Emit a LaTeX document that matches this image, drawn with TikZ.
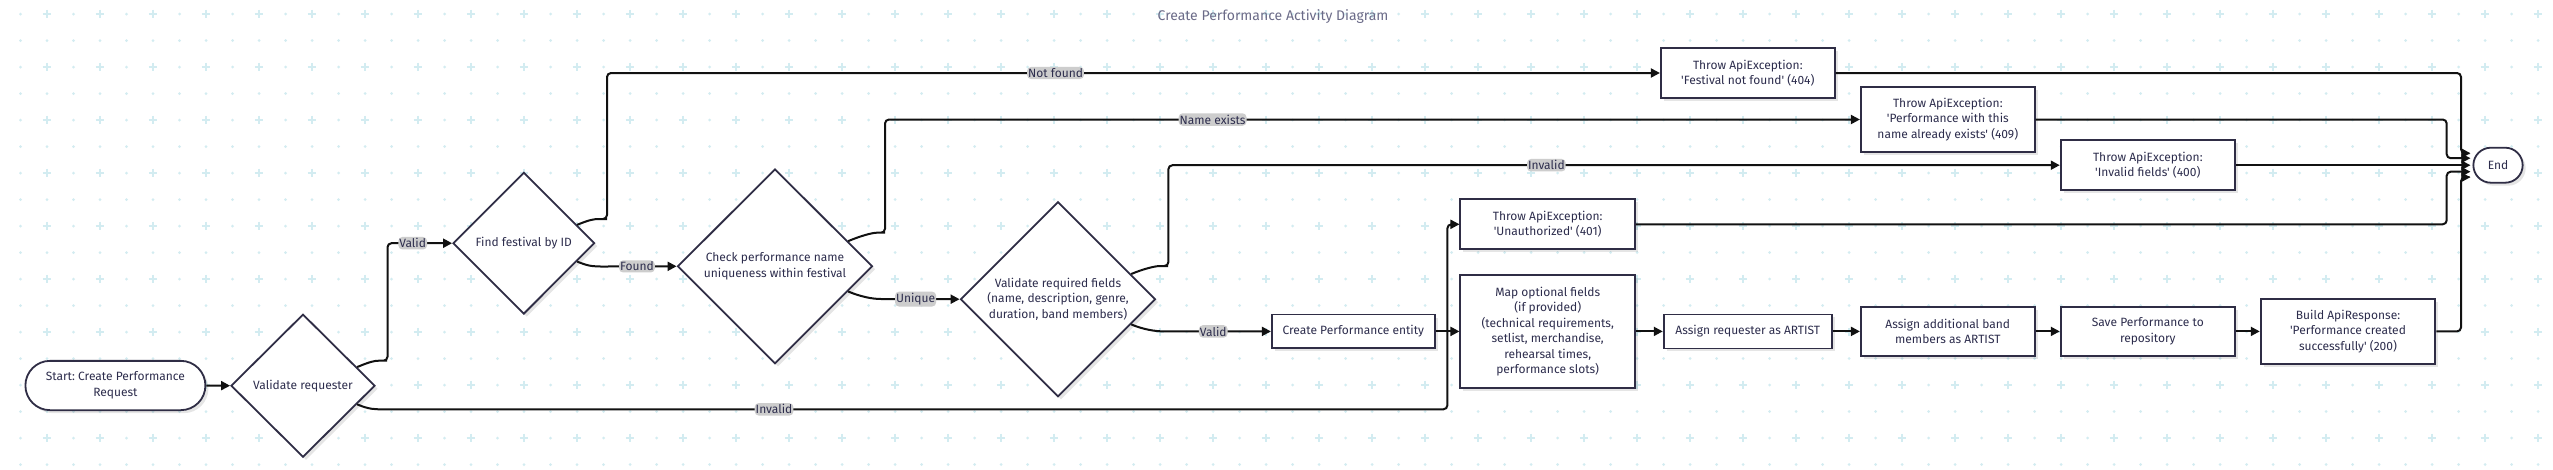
\documentclass[tikz,border=0pt]{standalone}
\usepackage{fontspec}
\setmonofont{Fira Sans}
\usetikzlibrary{shapes.geometric,arrows.meta,calc,shadows}
\definecolor{gridc}{HTML}{D3ECF1}
\definecolor{txt}{HTML}{2D2D4D}
\definecolor{bord}{HTML}{2F2D45}
\definecolor{lblbg}{HTML}{CDCDCD}
\definecolor{ttl}{HTML}{6B6B88}
\definecolor{edgec}{HTML}{111111}
\begin{document}
\begin{tikzpicture}[x=1pt,y=-1pt,
  base/.style={draw=bord, line width=1.8pt, fill=white, text=txt,
    font=\ttfamily\fontsize{12}{15.5}\selectfont, align=center, inner sep=0pt,
    drop shadow={shadow xshift=3pt, shadow yshift=-3pt, fill=black, opacity=0.10}},
  proc/.style={base, rectangle},
  dec/.style={base, diamond},
  term/.style={base, rectangle},
  conn/.style={draw=edgec, line width=2pt, -{Triangle[length=9pt,width=9pt]}, rounded corners=4pt},
  lbl/.style={fill=lblbg, text=txt, font=\ttfamily\fontsize{12}{14}\selectfont, inner xsep=1pt, inner ysep=1.5pt, draw=none}
]
\fill[white] (0,0) rectangle (2553,469);
\useasboundingbox (0,0) rectangle (2553,469);
% background grid
\foreach \i in {0,...,95}{
  \foreach \j in {0,...,17}{
    \pgfmathsetmacro\gx{20.5+26.5*\i}
    \pgfmathsetmacro\gy{14+26.5*\j}
    \pgfmathtruncatemacro\isplus{mod(\i,2)*(1-mod(\j,2))}
    \ifnum\isplus=1
      \draw[gridc,line width=1.8pt] (\gx-4.2,\gy) -- (\gx+4.2,\gy) (\gx,\gy-4.2) -- (\gx,\gy+4.2);
    \else
      \fill[gridc] (\gx,\gy) circle (1.5pt);
    \fi
  }
}
% title
\node[text=ttl, font=\ttfamily\fontsize{14}{16}\selectfont] (title) at (1273,16.7) {Create Performance Activity Diagram};
% nodes
\node[term, rounded corners=24.6pt, minimum width=180pt, minimum height=49.3pt] (start) at (115.4,385.5) {Start: Create Performance\\Request};
\node[dec, minimum width=144pt, minimum height=143pt] (val) at (303,385.7) {Validate requester};
\node[dec, minimum width=141.6pt, minimum height=141.7pt] (fnd) at (523.8,243.2) {Find festival by ID};
\node[dec, minimum width=195pt, minimum height=194.7pt] (chk) at (775,266.3) {Check performance name\\uniqueness within festival};
\node[dec, minimum width=195pt, minimum height=195pt] (vf) at (1058,299.2) {Validate required fields\\(name, description, genre,\\duration, band members)};
\node[proc, minimum width=163pt, minimum height=33.7pt] (cpe) at (1353.3,331.4) {Create Performance entity};
\node[proc, minimum width=174.7pt, minimum height=50pt] (t401) at (1547.7,224.3) {Throw ApiException:\\'Unauthorized' (401)};
\node[proc, minimum width=174.7pt, minimum height=112.7pt] (map) at (1547.7,331.4) {Map optional fields\\(if provided)\\(technical requirements,\\setlist, merchandise,\\rehearsal times,\\performance slots)};
\node[proc, minimum width=174pt, minimum height=49.3pt] (t404) at (1747.8,73) {Throw ApiException:\\'Festival not found' (404)};
\node[proc, minimum width=168.3pt, minimum height=34pt] (asg) at (1747.8,331.4) {Assign requester as ARTIST};
\node[proc, minimum width=174pt, minimum height=65.7pt] (t409) at (1947.8,119.5) {Throw ApiException:\\'Performance with this\\name already exists' (409)};
\node[proc, minimum width=174pt, minimum height=49.3pt] (band) at (1947.8,331.4) {Assign additional band\\members as ARTIST};
\node[proc, minimum width=174.3pt, minimum height=49.7pt] (t400) at (2147.8,165.2) {Throw ApiException:\\'Invalid fields' (400)};
\node[proc, minimum width=174.3pt, minimum height=49.3pt] (save) at (2147.8,331.4) {Save Performance to\\repository};
\node[proc, minimum width=174.7pt, minimum height=65pt] (bld) at (2348,331.4) {Build ApiResponse:\\'Performance created\\successfully' (200)};
\node[term, rounded corners=17.5pt, minimum width=49.3pt, minimum height=35pt] (end) at (2498,165.2) {End};
% entry points at End
\coordinate (in1) at ($(end.west)+(-2,-12)$);
\coordinate (in2) at ($(end.west)+(-2,-7)$);
\coordinate (in3) at ($(end.west)+(-2,0)$);
\coordinate (in4) at ($(end.west)+(-2,6.5)$);
\coordinate (in5) at ($(end.west)+(-2,12)$);
\coordinate (c1) at (2461,0);
\coordinate (c2) at (2446.7,0);
% connectors
\draw[conn] (start.east) -- (val.west);
\draw[conn] (val.19) .. controls ($(val.19)+(12,-5)$) and (374,360.7) .. (383,360.7) -- (387.5,360.7) |- node[lbl,pos=0.695]{Valid} (fnd.west);
\draw[conn] (fnd.19) .. controls ($(fnd.19)+(12,-5)$) and (594,219) .. (603,219) -- (607,219) |- node[lbl,pos=0.713]{Not found} (t404.west);
\draw[conn] (fnd.-19) .. controls ($(fnd.-19)+(12,5)$) and (594,266.5) .. (607,266.5) -- node[lbl,pos=0.43]{Found} (chk.west);
\draw[conn] (chk.19) .. controls ($(chk.19)+(12,-5)$) and (872,232.7) .. (881,232.7) -- (885,232.7) |- node[lbl,pos=0.668]{Name exists} (t409.west);
\draw[conn] (chk.-19) .. controls ($(chk.-19)+(12,5)$) and (872,299) .. (885,299) -- node[lbl,pos=0.41]{Unique} (vf.west);
\draw[conn] (vf.19) .. controls ($(vf.19)+(12,-5)$) and (1155,266) .. (1164,266) -- (1168.4,266) |- node[lbl,pos=0.712]{Invalid} (t400.west);
\draw[conn] (vf.-19) .. controls ($(vf.-19)+(12,5)$) and (1155,331.4) .. (1168,331.4) -- node[lbl,pos=0.44]{Valid} (cpe.west);
\draw[conn] (val.-19) .. controls ($(val.-19)+(12,5)$) and (374,409.3) .. (387,409.3) -- node[lbl,pos=0.365]{Invalid} (1447.4,409.3) |- (t401.west);
\draw[conn] (cpe.east) -- (map.west);
\draw[conn] (map.east) -- (asg.west);
\draw[conn] (asg.east) -- (band.west);
\draw[conn] (band.east) -- (save.west);
\draw[conn] (save.east) -- (bld.west);
\draw[conn] (t404.east) -| (c1|-in1) -- (in1);
\draw[conn] (t409.east) -| (c2|-in2) -- (in2);
\draw[conn] (t400.east) -- (in3);
\draw[conn] (t401.east) -| (c2|-in4) -- (in4);
\draw[conn] (bld.east) -| (c1|-in5) -- (in5);
\end{tikzpicture}
\end{document}
